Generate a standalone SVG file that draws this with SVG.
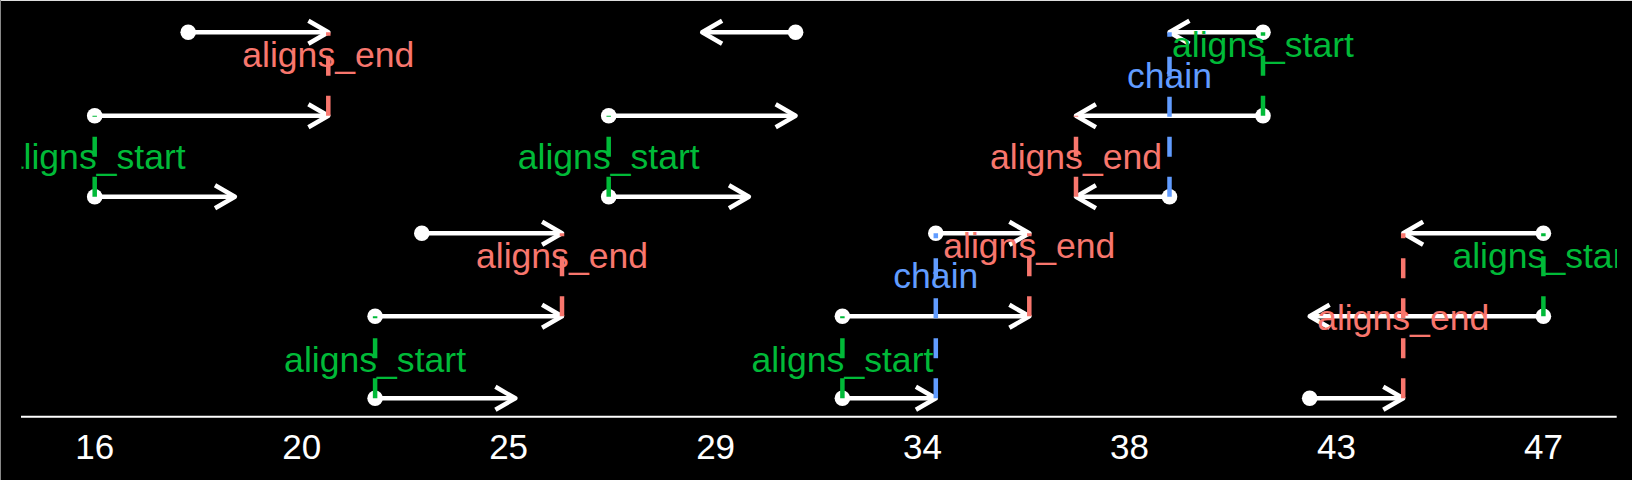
<svg xmlns="http://www.w3.org/2000/svg" width="1632" height="480" viewBox="0 0 1632 480">
<defs>
  <clipPath id="plotclip"><rect x="21.5" y="0" width="1595.5" height="480"/></clipPath>
  <marker id="head" markerUnits="userSpaceOnUse" orient="auto" refX="0" refY="0" markerWidth="40" markerHeight="40" viewBox="-30 -20 40 40" overflow="visible">
    <path d="M-19.9,-11.5 L0,0 L-19.9,11.5" fill="none" stroke="#ffffff" stroke-width="4.5" stroke-linejoin="round"/>
  </marker>
</defs>
<style>
  .arr { stroke:#ffffff; stroke-width:4.5; fill:none; marker-end:url(#head); }
  .pt { fill:#ffffff; }
  .dl { fill:none; stroke-width:4.5; stroke-dasharray:20 20; }
  .red { stroke:#F8766D; }
  .grn { stroke:#00BA38; }
  .blu { stroke:#619CFF; }
  text { font-family:"Liberation Sans", Arial, sans-serif; font-size:35px; text-anchor:middle; }
  .tr { fill:#F8766D; font-size:35.6px; }
  .tg { fill:#00BA38; font-size:35.6px; }
  .tb { fill:#619CFF; font-size:35.6px; }
  .tick { fill:#ffffff; }
</style>
<rect x="0" y="0" width="1632" height="480" fill="#000000"/>
<line x1="0" y1="0.5" x2="1632" y2="0.5" stroke="#dddddd" stroke-width="1"/>
<line x1="0.5" y1="0" x2="0.5" y2="480" stroke="#888888" stroke-width="1"/>

<g clip-path="url(#plotclip)">
  <g id="iv-A1"><line class="arr" x1="188.2" y1="32.3" x2="328.3" y2="32.3"/><circle class="pt" cx="188.2" cy="32.3" r="7.8"/></g>
  <g id="iv-A2"><line class="arr" x1="94.7" y1="115.7" x2="328.3" y2="115.7"/><circle class="pt" cx="94.7" cy="115.7" r="7.8"/></g>
  <g id="iv-A3"><line class="arr" x1="94.7" y1="196.7" x2="234.9" y2="196.7"/><circle class="pt" cx="94.7" cy="196.7" r="7.8"/></g>
  <g id="iv-B1"><line class="arr" x1="795.6" y1="32.3" x2="702.2" y2="32.3"/><circle class="pt" cx="795.6" cy="32.3" r="7.8"/></g>
  <g id="iv-B2"><line class="arr" x1="608.7" y1="115.7" x2="795.6" y2="115.7"/><circle class="pt" cx="608.7" cy="115.7" r="7.8"/></g>
  <g id="iv-B3"><line class="arr" x1="608.7" y1="196.7" x2="748.9" y2="196.7"/><circle class="pt" cx="608.7" cy="196.7" r="7.8"/></g>
  <g id="iv-C1"><line class="arr" x1="1263.0" y1="32.3" x2="1169.5" y2="32.3"/><circle class="pt" cx="1263.0" cy="32.3" r="7.8"/></g>
  <g id="iv-C2"><line class="arr" x1="1263.0" y1="115.7" x2="1076.0" y2="115.7"/><circle class="pt" cx="1263.0" cy="115.7" r="7.8"/></g>
  <g id="iv-C3"><line class="arr" x1="1169.5" y1="196.7" x2="1076.0" y2="196.7"/><circle class="pt" cx="1169.5" cy="196.7" r="7.8"/></g>
  <g id="iv-D1"><line class="arr" x1="421.8" y1="233.3" x2="562.0" y2="233.3"/><circle class="pt" cx="421.8" cy="233.3" r="7.8"/></g>
  <g id="iv-D2"><line class="arr" x1="375.1" y1="316.3" x2="562.0" y2="316.3"/><circle class="pt" cx="375.1" cy="316.3" r="7.8"/></g>
  <g id="iv-D3"><line class="arr" x1="375.1" y1="398.3" x2="515.3" y2="398.3"/><circle class="pt" cx="375.1" cy="398.3" r="7.8"/></g>
  <g id="iv-E1"><line class="arr" x1="935.8" y1="233.3" x2="1029.3" y2="233.3"/><circle class="pt" cx="935.8" cy="233.3" r="7.8"/></g>
  <g id="iv-E2"><line class="arr" x1="842.4" y1="316.3" x2="1029.3" y2="316.3"/><circle class="pt" cx="842.4" cy="316.3" r="7.8"/></g>
  <g id="iv-E3"><line class="arr" x1="842.4" y1="398.3" x2="935.8" y2="398.3"/><circle class="pt" cx="842.4" cy="398.3" r="7.8"/></g>
  <g id="iv-F1"><line class="arr" x1="1543.4" y1="233.3" x2="1403.2" y2="233.3"/><circle class="pt" cx="1543.4" cy="233.3" r="7.8"/></g>
  <g id="iv-F2"><line class="arr" x1="1543.4" y1="316.3" x2="1309.7" y2="316.3"/><circle class="pt" cx="1543.4" cy="316.3" r="7.8"/></g>
  <g id="iv-F3"><line class="arr" x1="1309.7" y1="398.3" x2="1403.2" y2="398.3"/><circle class="pt" cx="1309.7" cy="398.3" r="7.8"/></g>

  <g id="connectors">
    <path class="dl red" d="M328.3,115.7 V32.3"/>
    <path class="dl grn" d="M94.7,196.7 V115.7"/>
    <path class="dl grn" d="M608.7,196.7 V115.7"/>
    <path class="dl red" d="M1076.0,196.7 V115.7"/>
    <path class="dl blu" d="M1169.5,196.7 V32.3"/>
    <path class="dl grn" d="M1263.0,115.7 V32.3"/>
    <path class="dl red" d="M562.0,316.3 V233.3"/>
    <path class="dl grn" d="M375.1,398.3 V316.3"/>
    <path class="dl red" d="M1029.3,316.3 V233.3"/>
    <path class="dl blu" d="M935.8,398.3 V233.3"/>
    <path class="dl grn" d="M842.4,398.3 V316.3"/>
    <path class="dl red" d="M1403.2,398.3 V233.3"/>
    <path class="dl grn" d="M1543.4,316.3 V233.3"/>
  </g>

  <g id="labels">
    <text class="tr" x="328.3" y="67">aligns_end</text>
    <text class="tg" x="94.7" y="169">aligns_start</text>
    <text class="tg" x="608.7" y="169">aligns_start</text>
    <text class="tr" x="1076" y="168.5">aligns_end</text>
    <text class="tb" x="1169.5" y="87.5">chain</text>
    <text class="tg" x="1263" y="57">aligns_start</text>
    <text class="tr" x="562" y="268.3">aligns_end</text>
    <text class="tg" x="375.1" y="371.7">aligns_start</text>
    <text class="tr" x="1029.3" y="258.3">aligns_end</text>
    <text class="tb" x="935.8" y="288.3">chain</text>
    <text class="tg" x="842.4" y="371.7">aligns_start</text>
    <text class="tr" x="1403.2" y="330">aligns_end</text>
    <text class="tg" x="1543.4" y="268.3">aligns_start</text>
  </g>
</g>

<g id="axis">
  <line x1="21" y1="416.7" x2="1616.7" y2="416.7" stroke="#ffffff" stroke-width="2"/>
  <text class="tick" x="94.7" y="459">16</text>
  <text class="tick" x="301.7" y="459">20</text>
  <text class="tick" x="508.6" y="459">25</text>
  <text class="tick" x="715.6" y="459">29</text>
  <text class="tick" x="922.5" y="459">34</text>
  <text class="tick" x="1129.5" y="459">38</text>
  <text class="tick" x="1336.4" y="459">43</text>
  <text class="tick" x="1543.4" y="459">47</text>
</g>
</svg>
